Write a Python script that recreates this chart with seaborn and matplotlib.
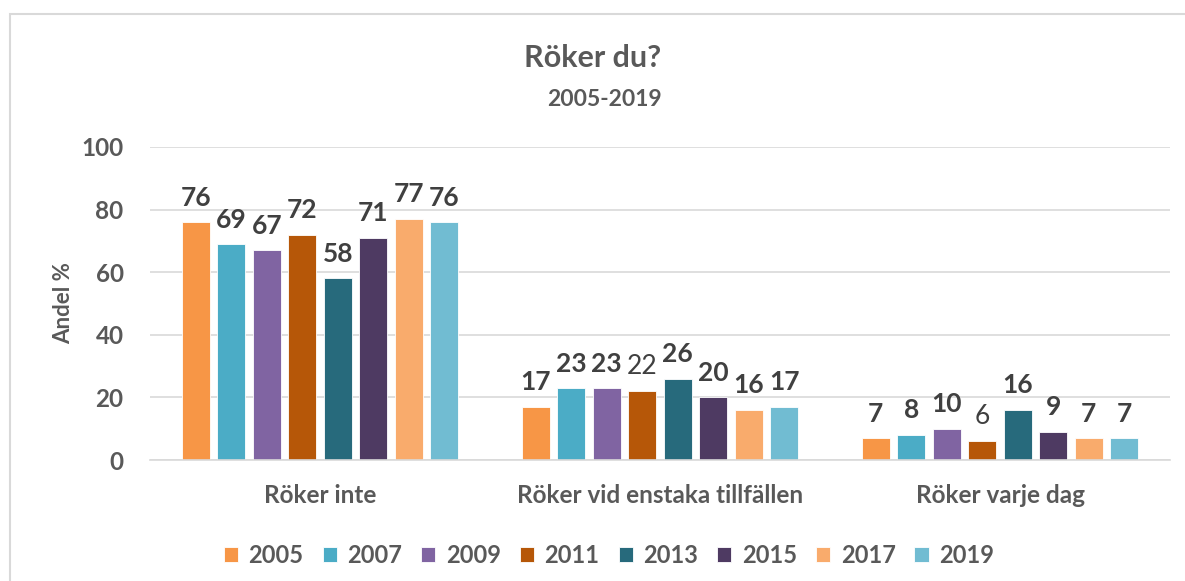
import matplotlib
matplotlib.use("Agg")
import matplotlib.pyplot as plt
import seaborn as sns
import pandas as pd
from matplotlib.patches import Rectangle

categories = ["Röker inte", "Röker vid enstaka tillfällen", "Röker varje dag"]
years = ["2005", "2007", "2009", "2011", "2013", "2015", "2017", "2019"]
values = {
    "2005": [76, 17, 7],
    "2007": [69, 23, 8],
    "2009": [67, 23, 10],
    "2011": [72, 22, 6],
    "2013": [58, 26, 16],
    "2015": [71, 20, 9],
    "2017": [77, 16, 7],
    "2019": [76, 17, 7],
}
colors = ["#F79646", "#4BACC6", "#8064A2", "#B65708",
          "#276A7C", "#4E3A62", "#F9AB6C", "#71BCD2"]
# labels rendered in normal (not bold) weight in the original
normal_labels = {("2011", 1), ("2011", 2)}

rows = []
for y in years:
    for c, v in zip(categories, values[y]):
        rows.append({"Kategori": c, "År": y, "Andel": v})
df = pd.DataFrame(rows)

sns.set_theme(style="white")
plt.rcParams["font.family"] = ["Lato", "DejaVu Sans"]

fig = plt.figure(figsize=(11.85, 5.81), dpi=100)
ax = fig.add_axes([150/1185, 1-460/581, 1020/1185, (460-147)/581])

sns.barplot(data=df, x="Kategori", y="Andel", hue="År", hue_order=years,
            order=categories, palette=colors, saturation=1, width=0.835, gap=0.2,
            ax=ax, legend=True, edgecolor="#FFFFFF", linewidth=0.6)

ax.set_ylim(0, 100)
ax.set_xlim(-0.5, 2.5)
ax.set_yticks([0, 20, 40, 60, 80, 100])
ax.grid(axis="y", color="#D9D9D9", linewidth=1.2)
ax.set_axisbelow(True)
for s in ["top", "right", "left"]:
    ax.spines[s].set_visible(False)
ax.spines["bottom"].set_color("#D9D9D9")
ax.spines["bottom"].set_linewidth(1.2)
ax.tick_params(axis="both", length=0, colors="#595959", labelsize=17.5)
ax.tick_params(axis="y", pad=19)
ax.tick_params(axis="x", pad=17)
for t in ax.get_xticklabels() + ax.get_yticklabels():
    t.set_fontweight("bold")
    t.set_color("#595959")
ax.set_xlabel("")
ax.set_ylabel("Andel %", fontsize=16, fontweight="bold", color="#595959", labelpad=5)

for yi, cont in zip(years, ax.containers):
    labels = [f"{int(bar.get_height())}" for bar in cont]
    texts = ax.bar_label(cont, labels=labels, padding=9, fontsize=19,
                         color="#404040", fontweight="bold")
    for ci, t in enumerate(texts):
        if (yi, ci) in normal_labels:
            t.set_fontweight("normal")

leg = ax.legend(loc="upper center", bbox_to_anchor=(0.45, -0.2), ncol=8,
                frameon=False, handlelength=0.6, handleheight=0.6,
                handletextpad=0.45, columnspacing=0.8,
                prop={"weight": "bold", "size": 17})
for t in leg.get_texts():
    t.set_color("#595959")

fig.text(0.5, 1-58/581, "Röker du?", ha="center", va="center",
         fontsize=22, fontweight="bold", color="#595959")
fig.text(604/1185, 1-100/581, "2005-2019", ha="center", va="center",
         fontsize=16.5, fontweight="bold", color="#595959")

fig.patches.append(Rectangle((10/1185, -0.1), 1.2, 1-14/581+0.1,
                             transform=fig.transFigure, fill=False,
                             edgecolor="#D9D9D9", linewidth=1.5))

fig.savefig("out.png", dpi=100)
